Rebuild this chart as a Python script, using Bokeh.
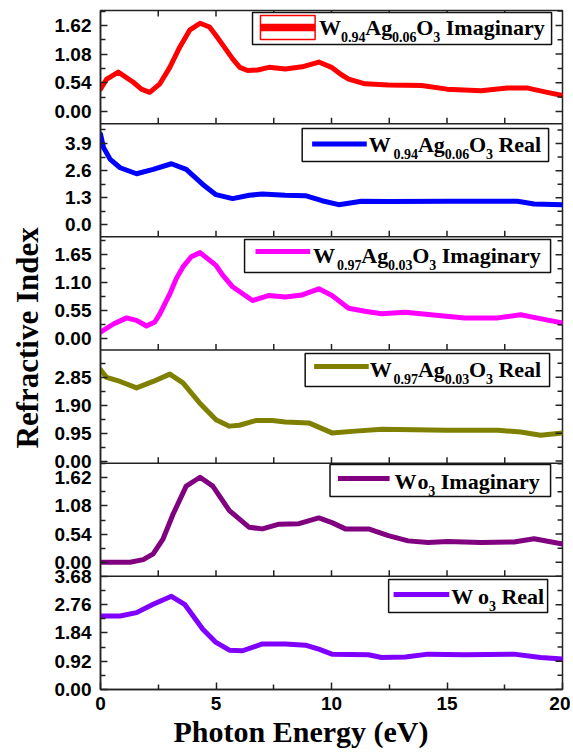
from bokeh.plotting import figure
from bokeh.models import (Range1d, FixedTicker, CustomJSTickFormatter, Span,
                          BoxAnnotation, Label, Title)
from bokeh.embed import file_html
from bokeh.resources import INLINE

# ---------------- data ----------------
x_w94_im = [0, 0.27, 0.77, 1.42, 1.77, 2.13, 2.57, 3.0, 3.43, 3.86, 4.31, 4.72, 5.0, 5.36, 5.72,
            6.03, 6.37, 6.8, 7.3, 8.0, 8.73, 9.45, 10.0, 10.4, 10.74, 11.45, 12.46, 13.9, 15.0,
            16.47, 17.6, 18.5, 19.34, 20.0]
y_w94_im = [0.42, 0.61, 0.74, 0.55, 0.42, 0.36, 0.52, 0.83, 1.21, 1.53, 1.66, 1.59, 1.43, 1.21, 0.99,
            0.83, 0.77, 0.78, 0.83, 0.80, 0.84, 0.93, 0.83, 0.70, 0.61, 0.52, 0.50, 0.49, 0.42,
            0.39, 0.44, 0.44, 0.36, 0.30]

x_w94_re = [0, 0.13, 0.42, 0.85, 1.56, 2.28, 3.07, 3.71, 4.43, 5.0, 5.72, 6.44, 7.0, 8.0, 8.87,
            9.59, 10.31, 11.3, 12.5, 15.0, 16.5, 18.05, 18.77, 20.0]
y_w94_re = [4.35, 3.71, 3.14, 2.74, 2.45, 2.66, 2.93, 2.66, 1.94, 1.45, 1.26, 1.42, 1.48, 1.42, 1.40,
            1.16, 0.97, 1.13, 1.12, 1.13, 1.13, 1.13, 1.00, 0.97]

x_w97_im = [0, 0.56, 1.13, 1.56, 1.99, 2.35, 2.57, 3.0, 3.28, 3.57, 3.93, 4.31, 5.0, 5.29, 5.72,
            6.58, 7.3, 8.0, 8.73, 9.45, 10.02, 10.74, 11.45, 12.17, 13.2, 14.3, 15.77, 17.2,
            18.19, 19.2, 20.0]
y_w97_im = [0.13, 0.29, 0.41, 0.36, 0.25, 0.33, 0.49, 0.88, 1.18, 1.41, 1.61, 1.69, 1.44, 1.25, 1.02,
            0.75, 0.85, 0.82, 0.86, 0.98, 0.85, 0.60, 0.54, 0.49, 0.52, 0.47, 0.41, 0.41,
            0.47, 0.38, 0.31]

x_w97_re = [0, 0.26, 0.85, 1.56, 2.28, 3.0, 3.57, 4.29, 5.0, 5.58, 6.01, 6.72, 7.44, 8.0, 9.02,
            10.02, 11.03, 12.17, 15.0, 17.2, 18.19, 19.05, 20.0]
y_w97_re = [3.11, 2.85, 2.71, 2.49, 2.71, 2.96, 2.66, 1.98, 1.41, 1.19, 1.22, 1.38, 1.38, 1.33, 1.30,
            0.96, 1.02, 1.08, 1.05, 1.05, 0.99, 0.88, 0.96]

x_wo3_im = [0, 1.28, 1.85, 2.28, 2.71, 3.14, 3.71, 4.31, 4.86, 5.58, 6.44, 7.01, 7.73, 8.59, 9.45,
            10.02, 10.6, 11.6, 12.46, 13.32, 14.18, 15.04, 16.47, 17.9, 18.77, 20.0]
y_wo3_im = [0.0, 0.0, 0.05, 0.16, 0.45, 0.92, 1.46, 1.63, 1.46, 0.99, 0.67, 0.64, 0.73, 0.74, 0.85,
            0.76, 0.64, 0.64, 0.51, 0.41, 0.38, 0.40, 0.38, 0.39, 0.45, 0.35]

x_wo3_re = [0, 0.85, 1.56, 2.28, 3.07, 3.64, 4.43, 5.0, 5.58, 6.15, 7.01, 8.0, 8.87, 9.45, 10.02,
            11.6, 12.17, 13.2, 14.18, 15.77, 17.9, 19.05, 20.0]
y_wo3_re = [2.39, 2.39, 2.50, 2.77, 3.03, 2.77, 1.96, 1.53, 1.28, 1.26, 1.48, 1.48, 1.44, 1.31, 1.15,
            1.13, 1.04, 1.06, 1.15, 1.13, 1.15, 1.04, 0.99]

# y tick values per panel (top to bottom)
ticks_p1 = [0.00, 0.54, 1.08, 1.62]
ticks_p2 = [0.0, 1.3, 2.6, 3.9]
ticks_p3 = [0.00, 0.55, 1.10, 1.65]
ticks_p4 = [0.00, 0.95, 1.90, 2.85]
ticks_p5 = [0.00, 0.54, 1.08, 1.62]
ticks_p6 = [0.00, 0.92, 1.84, 2.76, 3.68]
x_major = [0, 5, 10, 15, 20]
x_minor = [2.5, 7.5, 12.5, 17.5]

# ---------------- panel definitions ----------------
panels = [
    # name, xs, ys, color, (lo, hi), ticks, decimals
    ("p1", x_w94_im, y_w94_im, "#FF0000", (-0.23, 1.90), ticks_p1, 2),
    ("p2", x_w94_re, y_w94_re, "#0000FF", (-0.57, 4.85), ticks_p2, 1),
    ("p3", x_w97_im, y_w97_im, "#FF00FF", (-0.22, 2.00), ticks_p3, 2),
    ("p4", x_w97_re, y_w97_re, "#808000", (-0.07, 3.78), ticks_p4, 2),
    ("p5", x_wo3_im, y_wo3_im, "#800080", (-0.27, 1.90), ticks_p5, 2),
    ("p6", x_wo3_re, y_wo3_re, "#8000FF", (0.00, 3.68), ticks_p6, 2),
]
N = len(panels)

p = figure(width=570, height=754, x_range=Range1d(0, 20), y_range=Range1d(0, N),
           output_backend="svg", toolbar_location=None,
           min_border_left=97, min_border_right=8, min_border_top=10, min_border_bottom=65)
p.xgrid.visible = False
p.ygrid.visible = False
p.outline_line_color = "#222222"
p.outline_line_width = 1.5
p.background_fill_color = "white"

major_pos, major_lab, minor_pos = [], [], []
for k, (name, xs, ys, color, (lo, hi), ticks, dec) in enumerate(panels):
    j = N - 1 - k  # index from bottom
    span = hi - lo
    p.extra_y_ranges[name] = Range1d(lo - j * span, hi + (N - 1 - j) * span)
    p.line(xs, ys, y_range_name=name, line_color=color, line_width=5, line_join="round",
           line_cap="round")
    step = ticks[1] - ticks[0]
    for t in ticks:
        major_pos.append(j + (t - lo) / span)
        major_lab.append(f"{t:.{dec}f}")
    m = ticks[0] + step / 2
    while m < hi:
        if m > lo:
            minor_pos.append(j + (m - lo) / span)
        m += step

# ---------------- axes ----------------
lab_font = "Liberation Sans"
yax = p.yaxis[0]
yax.ticker = FixedTicker(ticks=major_pos, minor_ticks=minor_pos)
yax.formatter = CustomJSTickFormatter(args=dict(pos=major_pos, lab=major_lab), code="""
let best = 0;
for (let i = 0; i < pos.length; i++) {
  if (Math.abs(pos[i] - tick) < Math.abs(pos[best] - tick)) best = i;
}
return lab[best];
""")
xax = p.xaxis[0]
xax.ticker = FixedTicker(ticks=x_major, minor_ticks=x_minor)
for ax in (xax, yax):
    ax.major_tick_in = 7
    ax.major_tick_out = 0
    ax.minor_tick_in = 5
    ax.minor_tick_out = 0
    ax.axis_line_color = "#222222"
    ax.axis_line_width = 1.5
    ax.major_tick_line_width = 1.5
    ax.minor_tick_line_width = 1.5
    ax.major_tick_line_color = "#222222"
    ax.minor_tick_line_color = "#222222"
    ax.major_label_text_font = lab_font
    ax.major_label_text_font_style = "bold"
    ax.major_label_text_font_size = "19px"
    ax.major_label_text_color = "black"
yax.major_label_standoff = 9
xax.major_label_standoff = 7

# panel separators
for b in range(1, N):
    p.add_layout(Span(location=b, dimension="width", line_color="#222222", line_width=1.5))

# inward ticks on internal boundaries, top and right side
px_y = N / 679.0
px_x = 20 / 465.0
inner_x = [v for v in x_major if 0 < v < 20] + x_minor
sx0, sx1, sy0, sy1 = [], [], [], []
for b in range(1, N):
    for v in inner_x:
        sx0.append(v); sx1.append(v); sy0.append(b); sy1.append(b + 6 * px_y)
for v in inner_x:
    sx0.append(v); sx1.append(v); sy0.append(N); sy1.append(N - 6 * px_y)
for v in major_pos:
    sx0.append(20); sx1.append(20 - 7 * px_x); sy0.append(v); sy1.append(v)
for v in minor_pos:
    sx0.append(20); sx1.append(20 - 5 * px_x); sy0.append(v); sy1.append(v)
p.segment(sx0, sy0, sx1, sy1, line_color="#222222", line_width=1.5)

# axis titles
p.add_layout(Title(text="Refractive Index", align="left", offset=241, standoff=14,
                   text_font="Liberation Serif", text_font_style="bold",
                   text_font_size="31px", text_color="black"), "left")
p.add_layout(Title(text="Photon Energy (eV)", align="left", offset=73, standoff=0,
                   text_font="Liberation Serif", text_font_style="bold",
                   text_font_size="30px", text_color="black"), "below")

# ---------------- legends (drawn as annotations) ----------------
W_EM = {'W': 1.0, 'A': .722, 'g': .5, 'O': .778, 'I': .389, 'm': .833, 'a': .5, 'i': .278,
        'n': .556, 'r': .444, 'y': .5, 'R': .722, 'e': .444, 'l': .278, 'o': .5, '.': .25,
        ' ': .25}
for d in "0123456789":
    W_EM[d] = .5
MAIN, SUB = 22, 14


def X(px):
    return (px - 97) / 465.0 * 20


def Y(py):
    return (689 - py) / 679.0 * N


def legend(box, sample, color, text_x, base, pieces, hollow=False):
    l, t, r, b = box
    p.add_layout(BoxAnnotation(left=X(l), right=X(r), top=Y(t), bottom=Y(b),
                               fill_color="white", fill_alpha=1.0,
                               line_color="#111111", line_alpha=1.0, line_width=1.5))
    x0, x1, yc = sample
    th = 7.5 if hollow else 5
    p.add_layout(BoxAnnotation(left=X(x0), right=X(x1), top=Y(yc - th / 2), bottom=Y(yc + th / 2),
                               fill_color=color, fill_alpha=1.0, line_color=None))
    if hollow:
        p.add_layout(BoxAnnotation(left=X(x0), right=X(x1), top=Y(yc - 12), bottom=Y(yc + 12),
                                   fill_color=None, line_color=color, line_alpha=1.0,
                                   line_width=1.5))
    cx = text_x
    for txt, kind, gap in pieces:
        cx += gap
        size = MAIN if kind == "M" else SUB
        yb = base if kind == "M" else base + 7
        p.add_layout(Label(x=X(cx), y=Y(yb - 0.34 * size), text=txt, text_font="Liberation Serif",
                           text_font_style="bold", text_font_size=f"{size}px",
                           text_color="black", text_align="left", text_baseline="middle"))
        cx += sum(W_EM.get(c, .5) for c in txt) * size


def formula(w, ag, suffix, wgap=0):
    return [("W", "M", 0), (w, "S", wgap), ("Ag", "M", 0), (ag, "S", 0), ("O", "M", 0),
            ("3", "S", 0), (suffix, "M", 5.5)]


legend((250, 12, 551, 44), (258, 313, 27), "#FF0000", 317, 34,
       formula("0.94", "0.06", "Imaginary"), hollow=True)
legend((300, 128, 548, 161), (310, 365, 143.5), "#0000FF", 367, 151.5,
       formula("0.94", "0.06", "Real", wgap=3))
legend((242, 239, 550, 272), (253, 308, 251), "#FF00FF", 311, 262.7,
       formula("0.97", "0.03", "Imaginary", wgap=2))
legend((303, 353, 549, 386), (312, 367, 366), "#808000", 368, 376,
       formula("0.97", "0.03", "Real", wgap=2))
legend((328, 464, 550, 496), (336, 388, 478), "#800080", 393, 488,
       [("W", "M", 0), ("o", "M", 1), ("3", "S", 0), ("Imaginary", "M", 5.5)])
legend((387, 579, 547, 612), (392, 448, 594), "#8000FF", 450, 603,
       [("W", "M", 0), ("o", "M", 5), ("3", "S", 0), ("Real", "M", 5.5)])

open("out.html", "w").write(file_html(p, INLINE))
